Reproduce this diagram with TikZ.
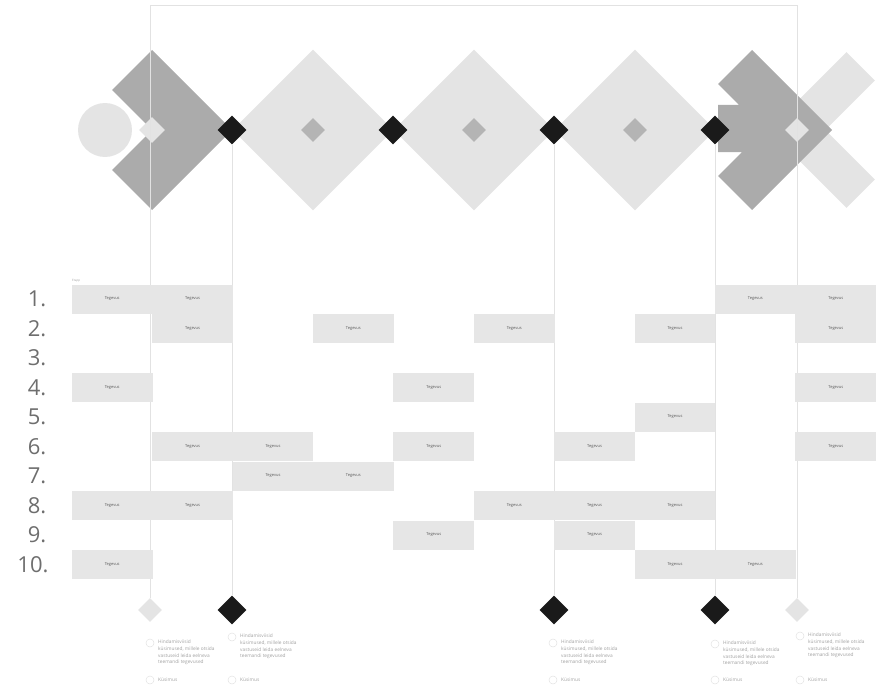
\documentclass[tikz,border=0pt]{standalone}
\usepackage{fontspec}
\setmainfont{Open Sans}
\usetikzlibrary{shapes.geometric}
\definecolor{palegray}{HTML}{E4E4E4}
\definecolor{midgray}{HTML}{B4B4B4}
\definecolor{darkgray}{HTML}{ABABAB}
\definecolor{inkblack}{HTML}{1A1A1A}
\definecolor{rulegray}{HTML}{E2E2E2}
\definecolor{cellgray}{HTML}{E6E6E6}
\definecolor{labelgray}{HTML}{5A5A5A}
\definecolor{numgray}{HTML}{6E6E6E}
\definecolor{notegray}{HTML}{A0A0A0}

\begin{document}
\begin{tikzpicture}[x=1pt, y=-1pt,
    gem/.style={diamond, aspect=1, inner sep=0pt, minimum size=#1},
    bigstone/.style={gem=161pt, fill=palegray},
    smallstone/.style={gem=24pt, fill=midgray},
    blackstone/.style={gem=29pt, fill=inkblack},
    palestone/.style={gem=24pt, fill=palegray},
    guide/.style={rulegray, line width=0.6pt},
    cellbox/.style={rectangle, fill=cellgray, minimum width=80.8pt, minimum height=29pt,
        inner sep=0pt, font=\fontsize{4}{5}\selectfont, text=labelgray},
    rowlabel/.style={font=\fontsize{22}{24}\selectfont, text=numgray},
    note/.style={anchor=north west, align=left, font=\fontsize{4.8}{6.6}\selectfont,
        text=notegray, inner sep=0pt},
    notedot/.style={circle, draw=rulegray, line width=0.5pt, minimum size=8pt, inner sep=0pt}
]
    \useasboundingbox (0,0) rectangle (887,685);
    % Left end: circle and chevron
    \fill[palegray] (105,130) circle (27pt);
    \fill[darkgray] (152,50) -- (232,130) -- (152,210) -- (112,170) -- (152,130) -- (112,90) -- cycle;
    \node[palestone, gem=26pt] (leftgem) at (152,130) {};
    % The three big diamonds
    \foreach \i/\x in {1/313, 2/474, 3/635} {
        \node[bigstone] (stone\i) at (\x,130) {};
        \node[smallstone] (core\i) at (\x,130) {};
    }
    % Right end: light cross under the dark arrow
    \foreach \a in {45,-45}
        \fill[palegray, shift={(797,130)}, rotate=\a] (-45,-20) rectangle (90,20);
    \fill[darkgray] (752,50) -- (832,130) -- (752,210) -- (718,176) -- (742,152) -- (718,152)
        -- (718,105) -- (739,105) -- (718,84) -- cycle;
    \node[palestone] (rightgem) at (797,130) {};
    % Black joints
    \foreach \i/\x in {1/232, 2/393, 3/554, 4/715}
        \node[blackstone] (top\i) at (\x,130) {};
    % Bottom markers
    \node[palestone] (foot0) at (150,610) {};
    \node[blackstone] (foot1) at (232,610) {};
    \node[blackstone] (foot3) at (554,610) {};
    \node[blackstone] (foot4) at (715,610) {};
    \node[palestone] (foot5) at (797,610) {};
    % Guide lines
    \coordinate (frameL) at (150,5);
    \coordinate (frameR) at (797,5);
    \draw[guide] (foot0.north) -- (frameL) -- (frameR) -- (foot5.north);
    \foreach \i in {1,3,4}
        \draw[guide] (top\i.south) -- (foot\i.north);
    % Activity grid
    \node[anchor=south west, inner sep=0pt, font=\fontsize{3}{3}\selectfont, text=notegray] (gridtag) at (72,282) {Etapp};
    \foreach \c/\r in {0/1,1/1,8/1,9/1, 1/2,3/2,5/2,7/2,9/2, 0/4,4/4,9/4, 7/5,
                       1/6,2/6,4/6,6/6,9/6, 2/7,3/7, 0/8,1/8,5/8,6/8,7/8, 4/9,6/9, 0/10,7/10,8/10}
        \node[cellbox] (cell\c-\r) at ({72+80.4*(\c+0.5)}, {299+29.5*(\r-1)}) {Tegevus};
    \foreach \r in {1,...,9}
        \node[rowlabel] (row\r) at (37, {299+29.5*(\r-1)}) {\r.};
    \node[rowlabel] (row10) at (33, 564.5) {10.};
    % Notes under the markers
    \foreach \x/\y/\n in {150/643/a, 232/637/b, 553/643/c, 715/644/d, 800/636/e} {
        \node[notedot] (dot\n) at (\x,\y) {};
        \node[note] (note\n) at ({\x+8},{\y-3}) {Hindamisviisid\\küsimused, millele otsida\\vastuseid leida eelneva\\teemandi tegevused};
        \node[notedot] (askdot\n) at (\x,680) {};
        \node[note, anchor=west] (ask\n) at ({\x+8},680) {Küsimus};
    }
\end{tikzpicture}
\end{document}
